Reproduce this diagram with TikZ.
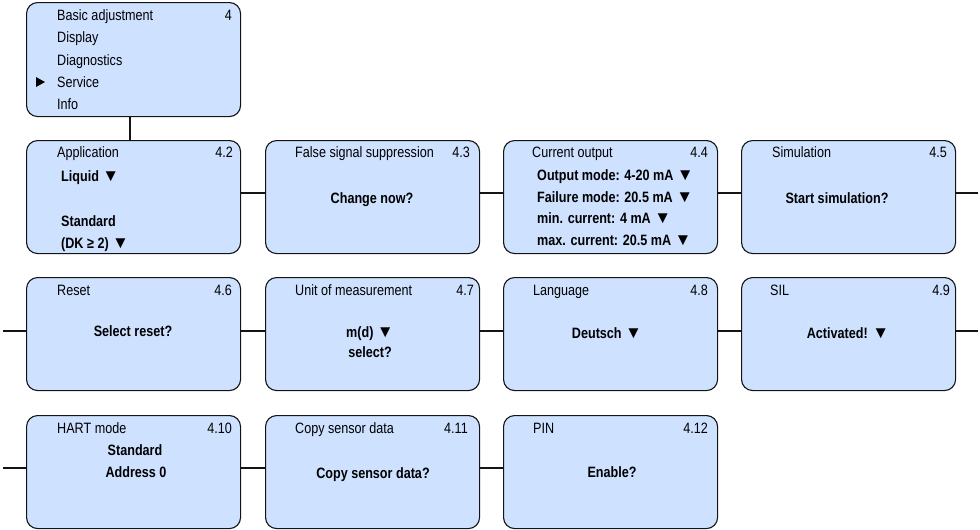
\documentclass[tikz,border=0pt]{standalone}
\usepackage{fontspec}
\setmainfont{Liberation Sans}[FakeStretch=0.84]
\newfontfamily\symfont{Liberation Sans}
\newcommand{\dtri}{{\symfont\fontsize{17}{17}\selectfont ▼}}
\definecolor{boxfill}{RGB}{206,225,255}
\definecolor{edge}{RGB}{20,20,20}
\begin{document}
\begin{tikzpicture}[x=1pt,y=-1pt,
  menubox/.style={draw=edge, line width=1.1pt, fill=boxfill, rounded corners=11pt,
    minimum width=214pt, anchor=north west, inner sep=0pt},
  rowbox/.style={menubox, minimum height=113pt},
  link/.style={draw=edge, line width=1.1pt},
  ttl/.style={anchor=base west, inner sep=0pt, font=\fontsize{15}{17}\selectfont},
  num/.style={anchor=base east, inner sep=0pt, font=\fontsize{15}{17}\selectfont},
  val/.style={anchor=base, inner sep=0pt, font=\fontsize{15}{17}\selectfont\bfseries},
  vall/.style={anchor=base west, inner sep=0pt, font=\fontsize{15}{17}\selectfont\bfseries}]
\useasboundingbox (0,0) rectangle (980,530);

% top menu
\node[menubox, minimum height=114pt] (top) at (26,2) {};
\node[ttl] (t1) at (57,20) {Basic adjustment};
\node[num] (t0) at (232,20) {4};
\node[ttl] (t2) at (57,42.5) {Display};
\node[ttl] (t3) at (57,65) {Diagnostics};
\node[ttl] (t4) at (57,87) {Service};
\node[ttl] (t5) at (57,109) {Info};
\fill[black] (36,77) -- (45,82) -- (36,87) -- cycle;

% row 1
\node[rowbox] (b2) at (26,140) {};
\node[rowbox] (b3) at (265,140) {};
\node[rowbox] (b4) at (503,140) {};
\node[rowbox] (b5) at (741,140) {};
% row 2
\node[rowbox] (b6) at (26,277) {};
\node[rowbox] (b7) at (265,277) {};
\node[rowbox] (b8) at (503,277) {};
\node[rowbox] (b9) at (741,277) {};
% row 3
\node[rowbox] (b10) at (26,415) {};
\node[rowbox] (b11) at (265,415) {};
\node[rowbox] (b12) at (503,415) {};

% connectors
\coordinate (r1e) at (978,193);
\coordinate (r2s) at (3,331);
\coordinate (r2e) at (978,331);
\coordinate (r3s) at (3,468);
\draw[link] (top.south -| 130,0) -- (b2.north -| 130,0);
\draw[link] (b2.east |- 0,193) -- (b3.west |- 0,193);
\draw[link] (b3.east |- 0,193) -- (b4.west |- 0,193);
\draw[link] (b4.east |- 0,193) -- (b5.west |- 0,193);
\draw[link] (b5.east |- 0,193) -- (r1e);
\draw[link] (r2s) -- (b6.west |- r2s);
\draw[link] (b6.east |- 0,331) -- (b7.west |- 0,331);
\draw[link] (b7.east |- 0,331) -- (b8.west |- 0,331);
\draw[link] (b8.east |- 0,331) -- (b9.west |- 0,331);
\draw[link] (b9.east |- 0,331) -- (r2e);
\draw[link] (r3s) -- (b10.west |- r3s);
\draw[link] (b10.east |- 0,468) -- (b11.west |- 0,468);
\draw[link] (b11.east |- 0,468) -- (b12.west |- 0,468);

% 4.2
\node[ttl] (a1) at (57,157) {Application};
\node[num] (a2) at (233,157) {4.2};
\node[vall] (a3) at (61,181) {Liquid \dtri};
\node[vall] (a4) at (61,226) {Standard};
\node[vall] (a5) at (61,248) {(DK ≥ 2) \dtri};
% 4.3
\node[ttl] (c1) at (295,157) {False signal suppression};
\node[num] (c2) at (470,157) {4.3};
\node[val] (c3) at (372,203) {Change now?};
% 4.4
\node[ttl] (d1) at (532,157) {Current output};
\node[num] (d2) at (708,157) {4.4};
\node[vall] (d3) at (537,180) {Output mode: 4-20 mA \dtri};
\node[vall] (d4) at (537,202) {Failure mode: 20.5 mA \dtri};
\node[vall] (d5) at (537,223.5) {min. current: 4 mA \dtri};
\node[vall] (d6) at (537,245) {max. current: 20.5 mA \dtri};
% 4.5
\node[ttl] (e1) at (772,157) {Simulation};
\node[num] (e2) at (947,157) {4.5};
\node[val] (e3) at (837,203) {Start simulation?};

% 4.6
\node[ttl] (f1) at (57,295) {Reset};
\node[num] (f2) at (232,295) {4.6};
\node[val] (f3) at (133,336) {Select reset?};
% 4.7
\node[ttl] (g1) at (295,295) {Unit of measurement};
\node[num] (g2) at (474,295) {4.7};
\node[val] (g3) at (370,337) {m(d) \dtri};
\node[val] (g4) at (370,357) {select?};
% 4.8
\node[ttl] (h1) at (533,295) {Language};
\node[num] (h2) at (708,295) {4.8};
\node[val] (h3) at (607,338) {Deutsch \dtri};
% 4.9
\node[ttl] (i1) at (770,295) {SIL};
\node[num] (i2) at (950,295) {4.9};
\node[val] (i3) at (848,338) {Activated! \dtri};

% 4.10
\node[ttl] (j1) at (57,433) {HART mode};
\node[num] (j2) at (232,433) {4.10};
\node[val] (j3) at (135,455) {Standard};
\node[val] (j4) at (136,477) {Address 0};
% 4.11
\node[ttl] (k1) at (295,433) {Copy sensor data};
\node[num] (k2) at (468,433) {4.11};
\node[val] (k3) at (373,478) {Copy sensor data?};
% 4.12
\node[ttl] (l1) at (533,433) {PIN};
\node[num] (l2) at (708,433) {4.12};
\node[val] (l3) at (612,477) {Enable?};
\end{tikzpicture}
\end{document}
